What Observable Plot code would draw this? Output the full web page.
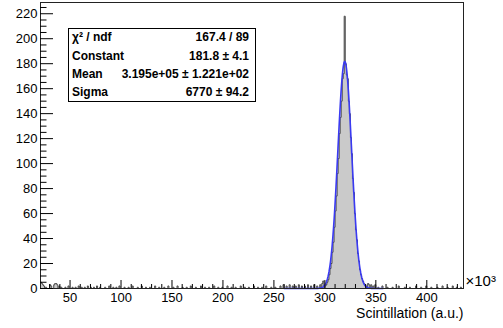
<!DOCTYPE html>
<html>
<head>
<meta charset="utf-8">
<script src="https://cdn.jsdelivr.net/npm/d3@7"></script>
<script src="https://cdn.jsdelivr.net/npm/@observablehq/plot@0.6"></script>
<style>
  html, body { margin: 0; padding: 0; background: #fff; }
  #chart { width: 503px; height: 328px; overflow: hidden; }
  #chart svg { font-family: "Liberation Sans", Arial, Helvetica, sans-serif; }
</style>
</head>
<body>
<div id="chart"></div>
<script>
// Histogram binning: 1 bin per 1000 a.u., axis shown in units of 10^3
const binWidth = 1000;
const xMin = 21000;
const xMax = 436000;
const yMax = 229;

// Sparse background: low edge of each non-empty bin (×10³) and its count
const bgEdges = [21, 22, 23, 24, 26, 30, 31, 34, 35, 36, 37, 39, 41, 45, 48, 52, 55, 58, 61, 64,
  67, 70, 73, 76, 79, 84, 88, 92, 95, 98, 103, 107, 111, 116, 120, 124, 128, 133, 137, 142,
  146, 151, 155, 160, 164, 168, 173, 178, 182, 186, 191, 195, 199, 204, 208, 212, 217, 221, 225, 230,
  234, 238, 242, 247, 251, 256, 259, 262, 265, 268, 271, 274, 277, 280, 283, 286, 289, 292, 295, 297,
  298, 342, 343, 345, 347, 349, 352, 356, 361, 366, 372, 378, 383, 389, 394, 399, 404, 410, 415, 420,
  425, 429, 433];
const bgCounts = [5, 4, 3, 2, 1, 3, 2, 3, 4, 4, 3, 2, 1, 1, 2, 1, 1, 2, 1, 1,
  2, 1, 1, 2, 1, 1, 2, 1, 1, 2, 1, 1, 2, 1, 2, 1, 1, 2, 1, 1,
  2, 1, 2, 1, 1, 2, 1, 2, 1, 1, 2, 1, 1, 2, 1, 1, 2, 1, 1, 2,
  1, 1, 2, 1, 1, 2, 3, 2, 3, 2, 2, 3, 2, 2, 3, 2, 3, 2, 3, 4,
  6, 4, 3, 3, 2, 3, 1, 2, 1, 1, 2, 1, 1, 2, 1, 2, 1, 1, 2, 1,
  2, 1, 1];

// Peak region: consecutive bins starting at 300 (×10³)
const peakStart = 300;
const peakCounts = [2, 3, 5, 7, 11, 16, 20, 29, 37, 49, 62, 74, 92, 104, 124, 137, 150, 168, 172, 218,
  180, 171, 168, 150, 140, 121, 108, 88, 77, 60, 47, 39, 28, 22, 15, 11, 8, 6, 4, 3, 2];

// Gaussian fit results
const fitConstant = 181.8;
const fitMean = 3.195e5;
const fitSigma = 6770;
const fitRange = [260000, 357000];

// Statistics box
const statLabels = ["χ² / ndf", "Constant", "Mean", "Sigma"];
const statValues = ["167.4 / 89", "181.8 ± 4.1", "3.195e+05 ± 1.221e+02", "6770 ± 94.2"];

// Axis ticks
const xMajor = [50, 100, 150, 200, 250, 300, 350, 400];
const yMajor = [0, 20, 40, 60, 80, 100, 120, 140, 160, 180, 200, 220];
const xLabel = "Scintillation (a.u.)";
const xExponent = "×10³";

// ---- build full bin table ----
const nBins = Math.round((xMax - xMin) / binWidth);
const counts = new Array(nBins).fill(0);
bgEdges.forEach((e, i) => { counts[e - xMin / 1000] = bgCounts[i]; });
peakCounts.forEach((c, i) => { counts[peakStart + i - xMin / 1000] = c; });
const steps = counts.map((c, i) => ({x: xMin + i * binWidth, y: c}));
steps.push({x: xMax, y: counts[nBins - 1]});

// Fit curve sampled across the fit range
const nFit = 200;
const fitPts = d3.range(nFit + 1).map(i => {
  const x = fitRange[0] + (fitRange[1] - fitRange[0]) * i / nFit;
  return {x, y: fitConstant * Math.exp(-0.5 * ((x - fitMean) / fitSigma) ** 2)};
});

const W = 503, H = 328, mL = 40, mR = 40, mT = 2, mB = 40;
const fw = W - mL - mR, fh = H - mT - mB;
const xMinor = d3.range(30, 436, 10).filter(v => v % 50 !== 0).map(v => v * 1000);
const yMinor = d3.range(0, 229, 5).filter(v => v % 20 !== 0);

const plot = Plot.plot({
  width: W,
  height: H,
  marginLeft: mL,
  marginRight: mR,
  marginTop: mT,
  marginBottom: mB,
  x: {domain: [xMin, xMax]},
  y: {domain: [0, yMax]},
  style: {fontSize: "13px", color: "#000", background: "#fff"},
  marks: [
    Plot.areaY(steps, {x: "x", y: "y", curve: "step-after", fill: "#cacaca"}),
    Plot.line(steps, {x: "x", y: "y", curve: "step-after", stroke: "#4a4a4a", strokeWidth: 1}),
    Plot.line(fitPts, {x: "x", y: "y", stroke: "#3a3af2", strokeWidth: 1.6}),
    Plot.frame({stroke: "#222"}),
    Plot.ruleX(xMinor, {x: d => d, insetTop: fh - 4, stroke: "#000"}),
    Plot.ruleX(xMajor.map(v => v * 1000), {x: d => d, insetTop: fh - 8, stroke: "#000"}),
    Plot.ruleY(yMinor, {y: d => d, insetRight: fw - 6.5, stroke: "#000"}),
    Plot.ruleY(yMajor, {y: d => d, insetRight: fw - 13, stroke: "#000"}),
    Plot.axisX(xMajor.map(v => v * 1000), {tickSize: 0, tickPadding: 4, tickFormat: d => d / 1000, fontSize: 13, label: null}),
    Plot.axisY(yMajor, {tickSize: 0, tickPadding: 3, fontSize: 13, label: null}),
    Plot.text([xLabel], {frameAnchor: "bottom-right", dy: 29, textAnchor: "end", fontSize: 14, fill: "#000"}),
    Plot.text([xExponent], {frameAnchor: "bottom-right", dx: 2, dy: -3, textAnchor: "start", fontSize: 15, fill: "#000"})
  ]
});

// Statistics box in the upper-left of the frame
const svg = d3.select(plot);
const box = {x: 68, y: 28, w: 187, h: 73};
const g = svg.append("g").attr("font-family", "'Liberation Sans', Arial, sans-serif")
  .attr("font-size", 12).attr("font-weight", "bold").attr("text-anchor", "start");
g.append("rect").attr("x", box.x + 0.5).attr("y", box.y + 0.5).attr("width", box.w).attr("height", box.h)
  .attr("fill", "#fff").attr("stroke", "#000");
const rowH = box.h / statLabels.length;
statLabels.forEach((s, i) => {
  const cy = box.y + rowH * (i + 0.5);
  g.append("text").attr("x", box.x + 4).attr("y", cy).attr("dy", "0.35em")
    .attr("text-anchor", "start").text(s);
  g.append("text").attr("x", box.x + box.w - 6).attr("y", cy).attr("dy", "0.35em")
    .attr("text-anchor", "end").text(statValues[i]);
});

document.getElementById("chart").appendChild(plot);
</script>
</body>
</html>
